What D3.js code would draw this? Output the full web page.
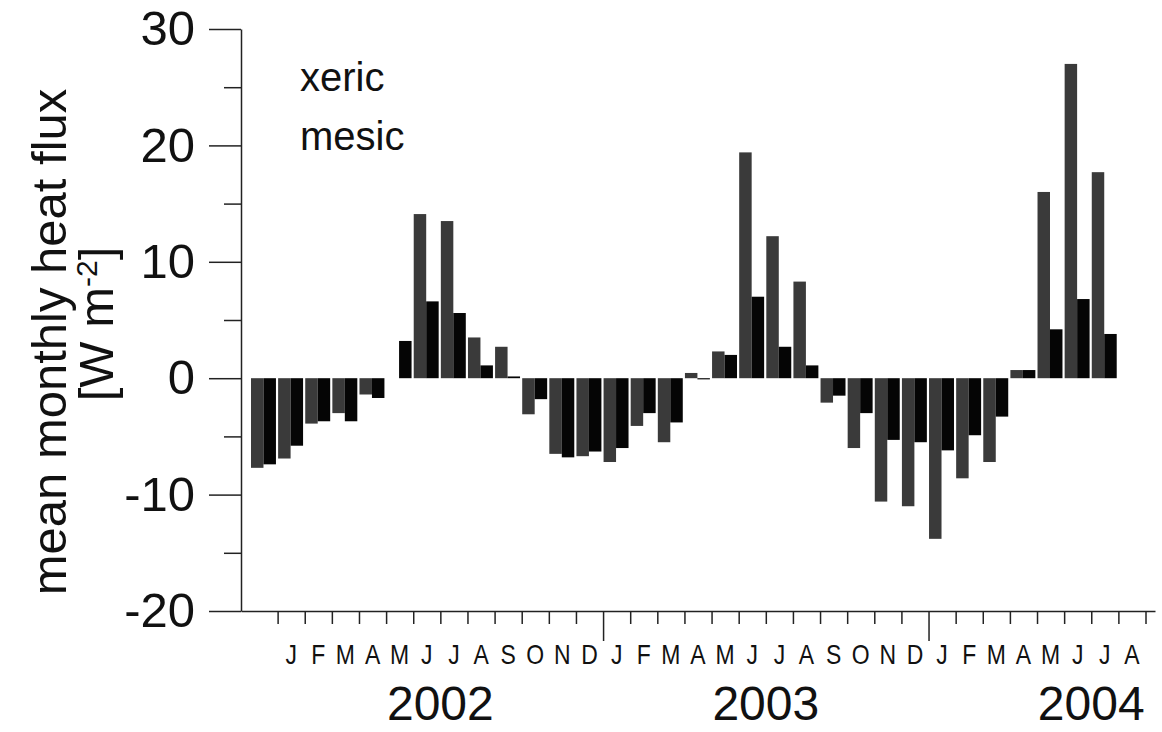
<!DOCTYPE html>
<html>
<head>
<meta charset="utf-8">
<script src="https://cdn.jsdelivr.net/npm/d3@7"></script>
<style>
  body { margin: 0; background: #fff; }
  text { font-family: "Liberation Sans", Arial, sans-serif; fill: #111; }
</style>
</head>
<body>
<div class="contents"></div>
<script>
var width = 1162;
var height = 732;

// bars run Dec 2001 .. Jul 2004 (one pair per month)
var xeric = [-7.7, -6.9, -3.9, -3.0, -1.4, 0.0, 14.1, 13.5, 3.5, 2.7, -3.1,
             -6.5, -6.7, -7.2, -4.1, -5.5, 0.45, 2.3, 19.4, 12.2, 8.3, -2.1,
             -6.0, -10.6, -11.0, -13.8, -8.6, -7.2, 0.7, 16.0, 27.0, 17.7];
var mesic = [-7.4, -5.8, -3.7, -3.7, -1.7, 3.2, 6.6, 5.6, 1.1, 0.15, -1.8,
             -6.8, -6.3, -6.0, -3.0, -3.8, -0.1, 2.0, 7.0, 2.7, 1.1, -1.5,
             -3.0, -5.3, -5.5, -6.2, -4.9, -3.3, 0.7, 4.2, 6.8, 3.8];
var firstMonth = -1; // month index of first bar pair (0 = Jan 2002)

// axis labels Jan 2002 .. Aug 2004
var monthLabels = ["J","F","M","A","M","J","J","A","S","O","N","D",
                   "J","F","M","A","M","J","J","A","S","O","N","D",
                   "J","F","M","A","M","J","J","A"];
var years = ["2002", "2003", "2004"];
var majorTicks = [-20, -10, 0, 10, 20, 30];
var minorTicks = [-15, -5, 5, 15, 25];
var seriesNames = ["xeric", "mesic"];

var svg = d3.select(".contents").append("svg")
      .attr("width", width)
      .attr("height", height);

var x = d3.scaleLinear().domain([-1.35, 32.35]).range([241, 1155]);
var y = d3.scaleLinear().domain([-20, 30]).range([611, 29]);
var slot = x(1) - x(0);
var barW = slot * 0.46;

// bars
var pairs = xeric.map(function(d, i){ return {m: firstMonth + i, xe: d, me: mesic[i]}; });

svg.selectAll("rect.xeric")
    .data(pairs)
    .enter()
    .append("rect")
    .attr("class", "xeric")
    .attr("x", function(d){ return x(d.m) + 0.5; })
    .attr("y", function(d){ return y(Math.max(0, d.xe)); })
    .attr("width", barW)
    .attr("height", function(d){ return Math.abs(y(d.xe) - y(0)); })
    .style("fill", "#3a3a3a");

svg.selectAll("rect.mesic")
    .data(pairs)
    .enter()
    .append("rect")
    .attr("class", "mesic")
    .attr("x", function(d){ return x(d.m) + 0.5 + barW; })
    .attr("y", function(d){ return y(Math.max(0, d.me)); })
    .attr("width", barW)
    .attr("height", function(d){ return Math.max(1, Math.abs(y(d.me) - y(0))); })
    .style("fill", "#050505");

// y axis (plain hyphen minus like the original)
var yAxis = svg.append("g")
    .attr("transform", "translate(241,0)")
    .call(d3.axisLeft(y).tickValues(majorTicks).tickSize(32).tickSizeOuter(0).tickPadding(14)
            .tickFormat(function(d){ return String(d); }));
yAxis.selectAll("text").style("font-size", "49px").style("font-family", "Liberation Sans, Arial, sans-serif");

svg.append("g")
    .attr("transform", "translate(241,0)")
    .call(d3.axisLeft(y).tickValues(minorTicks).tickSize(17).tickFormat(""))
    .select(".domain").remove();

// x axis
var xAxis = svg.append("g")
    .attr("transform", "translate(0,611)")
    .call(d3.axisBottom(x).tickValues(d3.range(0, 33)).tickSize(13).tickSizeOuter(0).tickFormat(""));
xAxis.selectAll(".tick line")
    .attr("y2", function(d){ return (d % 12 == 0 && d > 0) ? 30 : 13; });

svg.selectAll(".domain, .tick line").style("stroke", "#222").style("stroke-width", 1.5);

svg.selectAll("text.month")
    .data(monthLabels)
    .enter()
    .append("text")
    .attr("class", "month")
    .attr("transform", function(d, i){ return "translate(" + x(i + 0.5) + ",664) scale(0.82,1)"; })
    .attr("text-anchor", "middle")
    .style("font-size", "28px")
    .text(function(d){ return d; });

svg.selectAll("text.year")
    .data(years)
    .enter()
    .append("text")
    .attr("class", "year")
    .attr("x", function(d, i){ return x(6 + 12 * i); })
    .attr("y", 720)
    .attr("text-anchor", "middle")
    .style("font-size", "48px")
    .text(function(d){ return d; });

// legend (text only)
svg.selectAll("text.legend")
    .data(seriesNames)
    .enter()
    .append("text")
    .attr("class", "legend")
    .attr("x", 300)
    .attr("y", function(d, i){ return 91 + i * 59; })
    .style("font-size", "40px")
    .text(function(d){ return d; });

// y title
svg.append("text")
    .attr("transform", "translate(66,342) rotate(-90)")
    .attr("text-anchor", "middle")
    .style("font-size", "49px")
    .text("mean monthly heat flux");

var unit = svg.append("text")
    .attr("transform", "translate(113,324) rotate(-90)")
    .attr("text-anchor", "middle")
    .style("font-size", "49px");
unit.append("tspan").text("[W m");
unit.append("tspan").attr("dy", -16).style("font-size", "30px").text("-2");
unit.append("tspan").attr("dy", 16).text("]");
</script>
</body>
</html>
